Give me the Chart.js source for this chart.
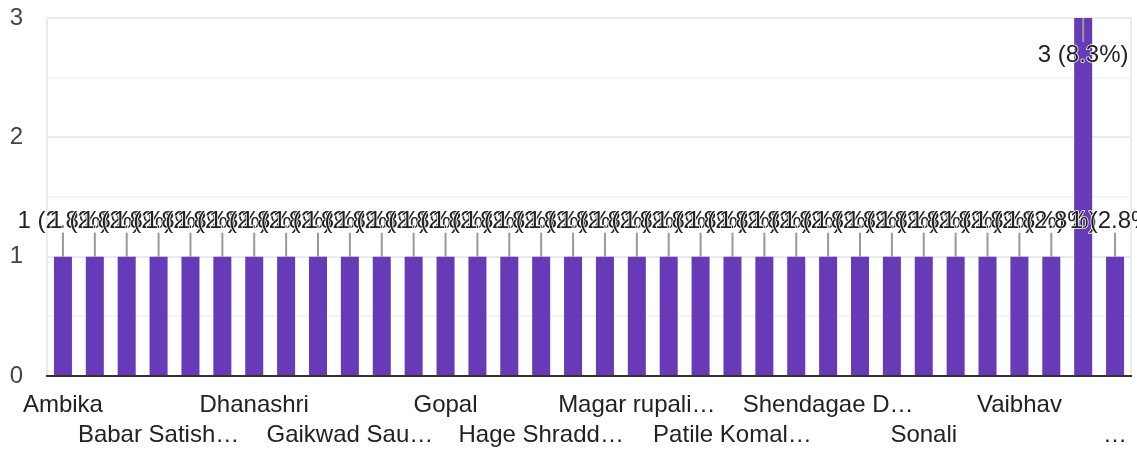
<!DOCTYPE html>
<html>
<head>
<meta charset="utf-8">
<script src="https://cdn.jsdelivr.net/npm/chart.js@4"></script>
<style>
  html, body { margin: 0; padding: 0; background: #fff; }
  #wrap { width: 1137px; height: 451px; position: relative; }
</style>
</head>
<body>
<div id="wrap"><canvas id="chart"></canvas></div>
<script>
// ── Data ────────────────────────────────────────────────────────
// only every third name is readable in the picture; the rest stay blank
const categories = [
  'Ambika', '', '', 'Babar Satish…', '', '', 'Dhanashri', '', '',
  'Gaikwad Sau…', '', '', 'Gopal', '', '', 'Hage Shradd…', '', '',
  'Magar rupali…', '', '', 'Patile Komal…', '', '', 'Shendagae D…', '', '',
  'Sonali', '', '', 'Vaibhav', '', '', '…'
];
const counts = [
  1, 1, 1, 1, 1, 1, 1, 1, 1, 1, 1, 1, 1, 1, 1, 1, 1,
  1, 1, 1, 1, 1, 1, 1, 1, 1, 1, 1, 1, 1, 1, 1, 3, 1
];
const yTicks = [0, 1, 2, 3];

const FONT   = "'Liberation Sans', Arial, sans-serif";
const PURPLE = '#673ab7';
const total  = counts.reduce((a, b) => a + b, 0);

// ── Annotation plugin: "n (p%)" with a short grey stem ──────────
const annotate = {
  id: 'annotate',
  afterDatasetsDraw(chart) {
    const { ctx, chartArea } = chart;
    const bars = chart.getDatasetMeta(0).data;
    const spots = bars.map((bar, i) => {
      const top = bar.y;
      const above = top - 48 >= chartArea.top;
      return above
        ? { x: bar.x, ty: top - 35, s0: top - 24, s1: top, i }
        : { x: bar.x, ty: top + 37, s0: top, s1: top + 24, i };
    });
    ctx.save();
    ctx.strokeStyle = '#999';
    ctx.lineWidth = 2;
    spots.forEach(p => {
      ctx.beginPath();
      ctx.moveTo(p.x, p.s0);
      ctx.lineTo(p.x, p.s1);
      ctx.stroke();
    });
    ctx.font = `24px ${FONT}`;
    ctx.textAlign = 'center';
    ctx.textBaseline = 'middle';
    ctx.lineJoin = 'round';
    spots.forEach(p => {
      const v = counts[p.i];
      const txt = `${v} (${(v / total * 100).toFixed(1)}%)`;
      ctx.strokeStyle = '#fff';
      ctx.lineWidth = 1.5;
      ctx.strokeText(txt, p.x, p.ty);
      ctx.fillStyle = '#222';
      ctx.fillText(txt, p.x, p.ty);
    });
    ctx.restore();
  }
};

new Chart(document.getElementById('chart'), {
  type: 'bar',
  data: {
    labels: categories,
    datasets: [{
      data: counts,
      backgroundColor: PURPLE,
      borderWidth: 0,
      barPercentage: 0.565,
      categoryPercentage: 1,
    }],
  },
  options: {
    responsive: true,
    maintainAspectRatio: false,
    animation: false,
    layout: { padding: { top: 18, right: 0, left: 0, bottom: 0 } },
    plugins: { legend: { display: false }, tooltip: { enabled: false } },
    scales: {
      x: {
        z: 1,
        grid: { display: false },
        border: { display: true, color: '#333', width: 2, z: 1 },
        afterFit: s => { s.height = 75; },
        ticks: {
          autoSkip: false,
          maxRotation: 0,
          minRotation: 0,
          padding: 6,
          color: '#222',
          font: { family: FONT, size: 24, lineHeight: 1.25 },
          callback: (v, i) => {
            if (i % 3 !== 0) return '';
            const name = categories[i];
            return (i / 3) % 2 === 0 ? [name, ''] : ['', name];
          },
        },
      },
      y: {
        min: 0,
        max: 3,
        afterFit: s => { s.width = 47; s.paddingTop = 0; s.paddingBottom = 0; },
        afterBuildTicks: s => {
          s.ticks = [0, 0.5, 1, 1.5, 2, 2.5, 3].map(v => ({ value: v }));
        },
        border: { display: true, color: '#ebebeb', width: 2 },
        grid: {
          drawTicks: false,
          lineWidth: 2,
          color: c => c.tick.value === 0 ? 'rgba(0,0,0,0)'
            : (yTicks.includes(c.tick.value) ? '#ebebeb' : '#f5f5f5'),
        },
        ticks: {
          padding: 24,
          color: '#444',
          font: { family: FONT, size: 24, lineHeight: 1.2 },
          callback: v => yTicks.includes(v) ? String(v) : '',
        },
      },
      y2: {
        position: 'right',
        min: 0,
        max: 3,
        afterFit: s => { s.width = 6; s.paddingTop = 0; s.paddingBottom = 0; },
        grid: { display: false },
        border: { display: true, color: '#ebebeb', width: 2 },
        ticks: { display: false },
      },
    },
  },
  plugins: [annotate],
});
</script>
</body>
</html>
